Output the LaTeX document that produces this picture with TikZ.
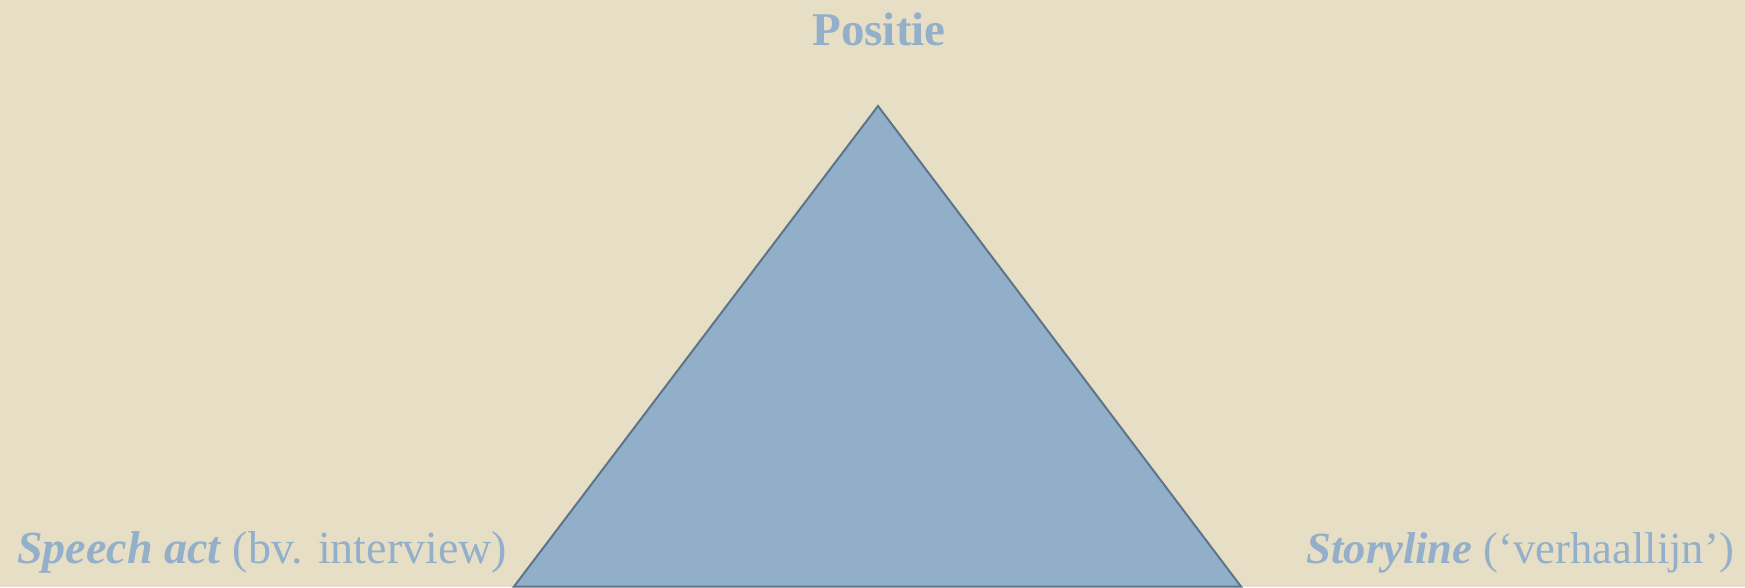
\documentclass[tikz,border=0pt]{standalone}
\usepackage{fontspec}
\setmainfont{Liberation Serif}
\definecolor{bg}{HTML}{E6DFC6}
\definecolor{lbl}{HTML}{93AFCA}
\definecolor{trifill}{HTML}{92AFC9}
\definecolor{tristroke}{HTML}{5E7489}
\tikzset{
  lab/.style={text=lbl, inner sep=0pt, font=\fontsize{46}{50}\selectfont},
  tri/.style={fill=trifill, draw=tristroke, line width=2pt, line join=miter}
}
\begin{document}
\begin{tikzpicture}[x=1pt,y=1pt]
\fill[bg] (0,0) rectangle (1745,587);
\useasboundingbox (0,0) rectangle (1745,587);
\coordinate (apex) at (878,481);
\coordinate (bl) at (514,0.5);
\coordinate (br) at (1241,0.5);
\draw[tri] (apex) -- (bl) -- (br) -- cycle;
\node[lab, anchor=base, font=\fontsize{47}{50}\selectfont\bfseries] (pos) at (879,541) {Positie};
\node[lab, anchor=base west] (speech) at (17,24) {\textbf{\textit{Speech act}} (bv. interview)};
\node[lab, anchor=base east, font=\fontsize{44.6}{50}\selectfont] (story) at (1734,24) {\textbf{\textit{Storyline}} (‘verhaallijn’)};
\end{tikzpicture}
\end{document}
